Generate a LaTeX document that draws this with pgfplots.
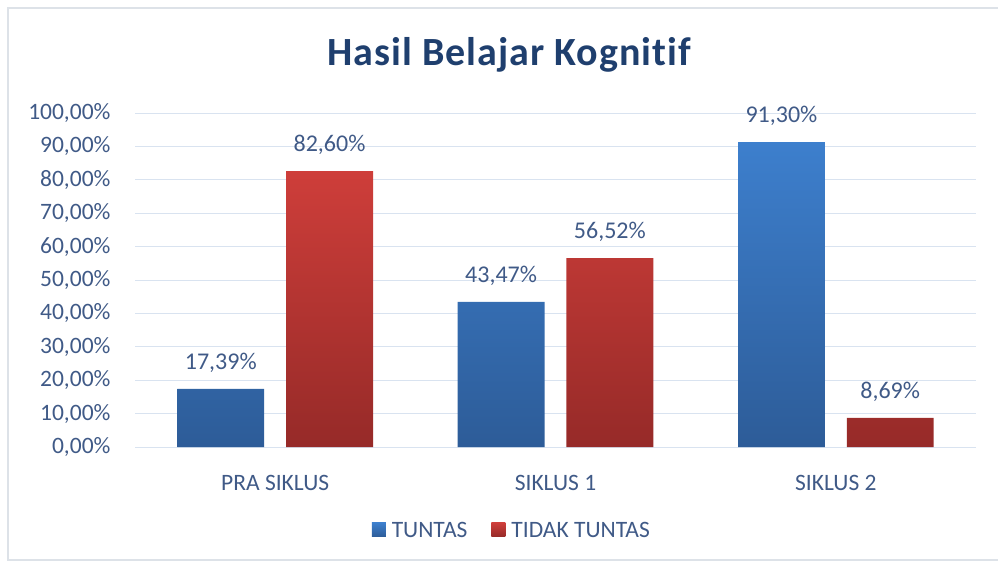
\documentclass[border=0pt]{standalone}
\usepackage{pgfplots}
\pgfplotsset{compat=1.18}
\usepackage{fontspec}
\setmainfont[Ligatures={NoCommon,TeX}]{Carlito}
\definecolor{txt}{RGB}{64,90,135}
\definecolor{ttl}{RGB}{31,63,110}
\definecolor{grd}{RGB}{217,227,240}
\definecolor{btop}{RGB}{61,127,205}
\definecolor{bbot}{RGB}{45,92,152}
\definecolor{rtop}{RGB}{206,62,58}
\definecolor{rbot}{RGB}{150,42,40}
\begin{document}
\begin{tikzpicture}
\path[use as bounding box] (0pt,0pt) rectangle (998pt,566pt);
\draw[color=grd!80!gray!60, line width=1.2pt] (8pt,6pt) rectangle (1005pt,558pt);
\node[font=\fontsize{40}{46}\selectfont\bfseries\addfontfeature{LetterSpace=2.5}, text=ttl] at (509pt,511pt) {Hasil Belajar Kognitif};
\begin{axis}[
  at={(135pt,119pt)}, anchor=south west,
  scale only axis, width=841pt, height=334pt,
  xmin=-0.5, xmax=2.5, ymin=0, ymax=100,
  ybar,
  axis line style={draw=none},
  tick style={draw=none},
  ymajorgrids, major grid style={grd, line width=1pt},
  ytick={0,10,...,100},
  yticklabels={{0,00\%},{10,00\%},{20,00\%},{30,00\%},{40,00\%},{50,00\%},{60,00\%},{70,00\%},{80,00\%},{90,00\%},{100,00\%}},
  xtick={0,1,2},
  xticklabels={PRA SIKLUS,SIKLUS 1,SIKLUS 2},
  ticklabel style={font=\fontsize{23.5}{28}\selectfont, text=txt},
  yticklabel style={xshift=-21pt},
  xticklabel style={yshift=-20pt},
  bar width=0.31,
  point meta=explicit symbolic,
  nodes near coords,
  nodes near coords style={font=\fontsize{24}{28}\selectfont, text=txt, yshift=13pt},
  legend columns=2,
  legend style={at={(0.448,-0.251)}, anchor=center, draw=none, fill=none,
    font=\fontsize{23.5}{28}\selectfont, text=txt,
    /tikz/every odd column/.append style={column sep=4pt},
    /tikz/every even column/.append style={column sep=22pt}},
  legend image code/.code={\path[#1,draw=none] (0pt,-6pt) rectangle (14pt,8pt);},
]
\addplot[bar shift=-0.194, draw=none, top color=btop, bottom color=bbot]
  coordinates {(0,17.39) [{17,39\%}] (1,43.47) [{43,47\%}] (2,91.30) [{91,30\%}]};
\addlegendentry{TUNTAS}
\addplot[bar shift=0.194, draw=none, top color=rtop, bottom color=rbot]
  coordinates {(0,82.60) [{82,60\%}] (1,56.52) [{56,52\%}] (2,8.69) [{8,69\%}]};
\addlegendentry{TIDAK TUNTAS}
\end{axis}
\end{tikzpicture}
\end{document}
